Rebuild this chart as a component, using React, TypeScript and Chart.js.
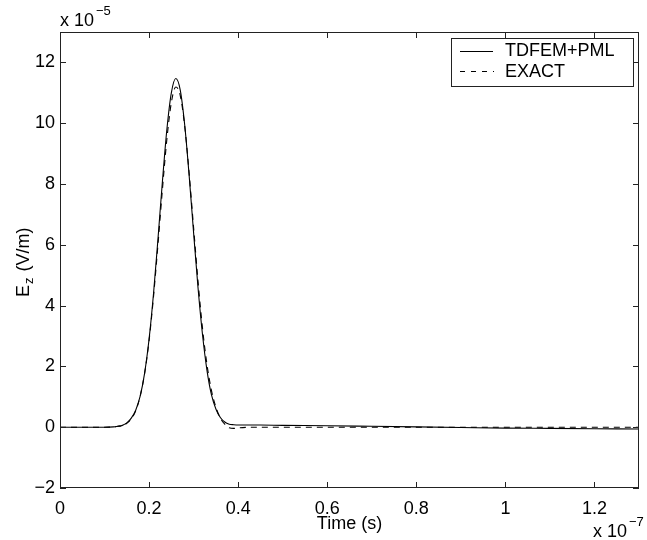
import React, { useEffect, useRef } from "react";
import { Chart, registerables } from "chart.js";

Chart.register(...registerables);

// time in units of 1e-7 s
const time = [0, 0.05, 0.10, 0.12, 0.13, 0.14, 0.15, 0.16, 0.17, 0.18, 0.19, 0.20, 0.21, 0.22, 0.23, 0.24, 0.25, 0.26, 0.27, 0.28, 0.29, 0.30, 0.31, 0.32, 0.33, 0.34, 0.35, 0.36, 0.37, 0.38, 0.39, 0.40, 0.45, 0.50, 0.60, 0.70, 0.80, 0.90, 1.00, 1.10, 1.20, 1.30];
// Ez in units of 1e-5 V/m
const tdfemPml = [0, 0, 0, 0.01, 0.03, 0.06, 0.14, 0.30, 0.56, 1.02, 1.78, 2.90, 4.40, 6.20, 8.09, 9.80, 11.00, 11.47, 11.09, 9.94, 8.27, 6.39, 4.57, 3.04, 1.87, 1.07, 0.60, 0.32, 0.17, 0.10, 0.08, 0.07, 0.07, 0.06, 0.05, 0.03, 0.01, -0.01, -0.03, -0.04, -0.05, -0.06];
const exact = [0, 0, 0, 0.01, 0.03, 0.05, 0.13, 0.27, 0.54, 1.02, 1.77, 2.85, 4.30, 6.01, 7.83, 9.48, 10.68, 11.19, 10.91, 9.90, 8.35, 6.56, 4.79, 3.25, 2.06, 1.21, 0.66, 0.30, 0.10, -0.02, -0.04, -0.02, 0, 0, 0, 0, 0, 0, 0, 0, 0, 0];

const xTicks = [0, 0.2, 0.4, 0.6, 0.8, 1, 1.2];
const yTicks = [-2, 0, 2, 4, 6, 8, 10, 12];
const seriesLabels = ["TDFEM+PML", "EXACT"];
const xTitle = "Time (s)";
const xExponent = "\u22127";
const yExponent = "\u22125";

const FONT = "'Liberation Sans', Arial, Helvetica, sans-serif";

const fmt = (v: number) => {
  const s = String(Math.round(v * 10) / 10);
  return s.replace("-", "\u2212");
};

const framePlugin = {
  id: "matlabFrame",
  afterDraw(chart: any) {
    const { ctx, chartArea, scales } = chart;
    const { left, right, top, bottom } = chartArea;
    ctx.save();
    ctx.strokeStyle = "#222";
    ctx.lineWidth = 1;
    ctx.setLineDash([]);
    ctx.strokeRect(left + 0.5, top + 0.5, right - left - 1, bottom - top - 1);
    const tl = 6;
    ctx.beginPath();
    for (const v of xTicks) {
      const px = Math.round(scales.x.getPixelForValue(v)) + 0.5;
      ctx.moveTo(px, bottom);
      ctx.lineTo(px, bottom - tl);
      ctx.moveTo(px, top);
      ctx.lineTo(px, top + tl);
    }
    for (const v of yTicks) {
      const py = Math.round(scales.y.getPixelForValue(v)) + 0.5;
      ctx.moveTo(left, py);
      ctx.lineTo(left + tl, py);
      ctx.moveTo(right, py);
      ctx.lineTo(right - tl, py);
    }
    ctx.stroke();

    ctx.fillStyle = "#000";
    // exponent labels
    ctx.textAlign = "left";
    ctx.textBaseline = "alphabetic";
    ctx.font = `18px ${FONT}`;
    ctx.fillText("x 10", left, top - 6);
    const w1 = ctx.measureText("x 10").width;
    ctx.font = `13px ${FONT}`;
    ctx.fillText(yExponent, left + w1 + 2, top - 17);

    ctx.font = `18px ${FONT}`;
    const ex = right - 46;
    ctx.fillText("x 10", ex, 537);
    const w2 = ctx.measureText("x 10").width;
    ctx.font = `13px ${FONT}`;
    ctx.fillText(xExponent, ex + w2 + 2, 526);

    // x title
    ctx.font = `18px ${FONT}`;
    ctx.textAlign = "center";
    ctx.fillText(xTitle, (left + right) / 2, 529);

    // y title: E_z (V/m)
    ctx.save();
    ctx.translate(29, 297);
    ctx.rotate(-Math.PI / 2);
    ctx.textAlign = "left";
    ctx.font = `18px ${FONT}`;
    ctx.fillText("E", 0, 0);
    const we = ctx.measureText("E").width;
    ctx.font = `13px ${FONT}`;
    ctx.fillText("z", we + 1, 4);
    const wz = ctx.measureText("z").width;
    ctx.font = `18px ${FONT}`;
    ctx.fillText(" (V/m)", we + wz + 2, 0);
    ctx.restore();

    // legend
    const lx = 451, ly = 38, lw = 182, lh = 48;
    ctx.fillStyle = "#fff";
    ctx.fillRect(lx, ly, lw, lh);
    ctx.strokeStyle = "#222";
    ctx.strokeRect(lx + 0.5, ly + 0.5, lw, lh);
    ctx.strokeStyle = "#000";
    ctx.beginPath();
    ctx.moveTo(460, 51.5);
    ctx.lineTo(493, 51.5);
    ctx.stroke();
    ctx.setLineDash([5, 6]);
    ctx.beginPath();
    ctx.moveTo(460, 71.5);
    ctx.lineTo(494, 71.5);
    ctx.stroke();
    ctx.setLineDash([]);
    ctx.fillStyle = "#000";
    ctx.font = `18px ${FONT}`;
    ctx.textAlign = "left";
    ctx.fillText(seriesLabels[0], 505, 56);
    ctx.fillText(seriesLabels[1], 505, 77);
    ctx.restore();
  },
};

export default function App() {
  const ref = useRef<HTMLCanvasElement>(null);
  useEffect(() => {
    if (!ref.current) return;
    const chart = new Chart(ref.current, {
      type: "line",
      data: {
        datasets: [
          {
            label: seriesLabels[0],
            data: time.map((t, i) => ({ x: t, y: tdfemPml[i] })),
            borderColor: "#000",
            borderWidth: 1.1,
            pointRadius: 0,
            cubicInterpolationMode: "monotone",
            fill: false,
          },
          {
            label: seriesLabels[1],
            data: time.map((t, i) => ({ x: t, y: exact[i] })),
            borderColor: "#000",
            borderWidth: 1.1,
            borderDash: [6, 5],
            pointRadius: 0,
            cubicInterpolationMode: "monotone",
            fill: false,
          },
        ],
      },
      options: {
        animation: false,
        responsive: false,
        devicePixelRatio: 1,
        layout: { padding: { left: 0, top: 32, right: 8, bottom: 0 } },
        plugins: { legend: { display: false }, tooltip: { enabled: false } },
        scales: {
          x: {
            type: "linear",
            min: 0,
            max: 1.3,
            grid: { display: false, drawTicks: false },
            border: { display: false },
            afterBuildTicks: (s: any) => {
              s.ticks = xTicks.map((v) => ({ value: v }));
            },
            afterFit: (s: any) => {
              s.height = 52;
            },
            ticks: {
              padding: 10,
              color: "#000",
              font: { family: FONT, size: 18 },
              maxRotation: 0,
              callback: (v: any) => fmt(Number(v)),
            },
          },
          y: {
            type: "linear",
            min: -2,
            max: 13,
            grid: { display: false, drawTicks: false },
            border: { display: false },
            afterBuildTicks: (s: any) => {
              s.ticks = yTicks.map((v) => ({ value: v }));
            },
            afterFit: (s: any) => {
              s.width = 60;
            },
            ticks: {
              padding: 5,
              color: "#000",
              font: { family: FONT, size: 18 },
              callback: (v: any) => fmt(Number(v)),
            },
          },
        },
      },
      plugins: [framePlugin],
    });
    return () => chart.destroy();
  }, []);
  return (
    <div style={{ position: "fixed", left: 0, top: 0, width: 647, height: 540, background: "#fff" }}>
      <canvas ref={ref} width={647} height={540} style={{ width: 647, height: 540 }} />
    </div>
  );
}
